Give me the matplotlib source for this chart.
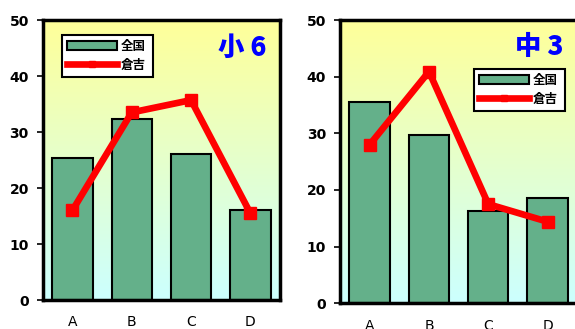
import matplotlib
matplotlib.use('Agg')
import matplotlib.pyplot as plt
import numpy as np
from matplotlib.colors import LinearSegmentedColormap

plt.rcParams['font.family'] = ['Noto Sans CJK JP', 'DejaVu Sans']

categories = ['A', 'B', 'C', 'D']
series_names = ['全国', '倉吉']

# 小6
sho6_zenkoku = [25.4, 32.4, 26.1, 16.0]
sho6_kurayoshi = [16.0, 33.5, 35.7, 15.5]

# 中3
chu3_zenkoku = [35.6, 29.7, 16.3, 18.5]
chu3_kurayoshi = [28.0, 40.9, 17.5, 14.4]

yticks = [0, 10, 20, 30, 40, 50]

bar_color = '#64B08A'
line_color = '#FF0000'
grad = LinearSegmentedColormap.from_list('bg', ['#CCFFFF', '#FFFF99'])


def draw_panel(ax, bars, line, title, title_pos, legend_box):
    gradient = np.linspace(0, 1, 256).reshape(-1, 1)
    ax.imshow(gradient, cmap=grad, origin='lower', aspect='auto',
              extent=[0, 1, 0, 1], transform=ax.transAxes, zorder=0)

    x = np.arange(len(categories))
    b = ax.bar(x, bars, width=0.68, color=bar_color, edgecolor='black',
               linewidth=1.5, zorder=2)
    ln, = ax.plot(x, line, color=line_color, linewidth=4.8, marker='s',
                  markersize=9, zorder=3)

    ax.set_xlim(-0.5, len(categories) - 0.5)
    ax.set_ylim(0, 50)
    ax.set_yticks(yticks)
    ax.set_xticks(x)
    ax.set_xticklabels(categories, fontsize=10, family='DejaVu Sans')
    ax.tick_params(axis='x', length=0, pad=11)
    ax.tick_params(axis='y', length=4, width=1.2, direction='out', pad=6)
    for lbl in ax.get_yticklabels():
        lbl.set_fontsize(10)
        lbl.set_fontweight('bold')
        lbl.set_family('DejaVu Sans')

    for sp in ax.spines.values():
        sp.set_linewidth(2.5)
        sp.set_color('black')

    ax.text(title_pos[0], title_pos[1], title, transform=ax.transAxes,
            color='#0000FF', fontsize=19, fontweight='heavy',
            style='italic', ha='center', va='center', zorder=5)

    leg = ax.legend([b, ln], series_names, loc='upper left',
                    bbox_to_anchor=legend_box, mode='expand',
                    fancybox=False, framealpha=1, edgecolor='black',
                    prop={'size': 9, 'weight': 'bold'},
                    handlelength=4.0, handletextpad=0.3,
                    borderpad=0.4, labelspacing=0.45, markerscale=0.5,
                    borderaxespad=0)
    leg.get_frame().set_linewidth(1.5)
    leg.set_zorder(6)


fig = plt.figure(figsize=(5.75, 3.29), dpi=100)
ax1 = fig.add_axes([0.0743, 0.0881, 0.4127, 0.851])
ax2 = fig.add_axes([0.5913, 0.0781, 0.4127, 0.861])

draw_panel(ax1, sho6_zenkoku, sho6_kurayoshi, '小 6', (0.84, 0.9),
           (0.081, 0.768, 0.384, 0.178))
draw_panel(ax2, chu3_zenkoku, chu3_kurayoshi, '中 3', (0.84, 0.905),
           (0.565, 0.646, 0.384, 0.181))

fig.savefig('out.png', dpi=100)
